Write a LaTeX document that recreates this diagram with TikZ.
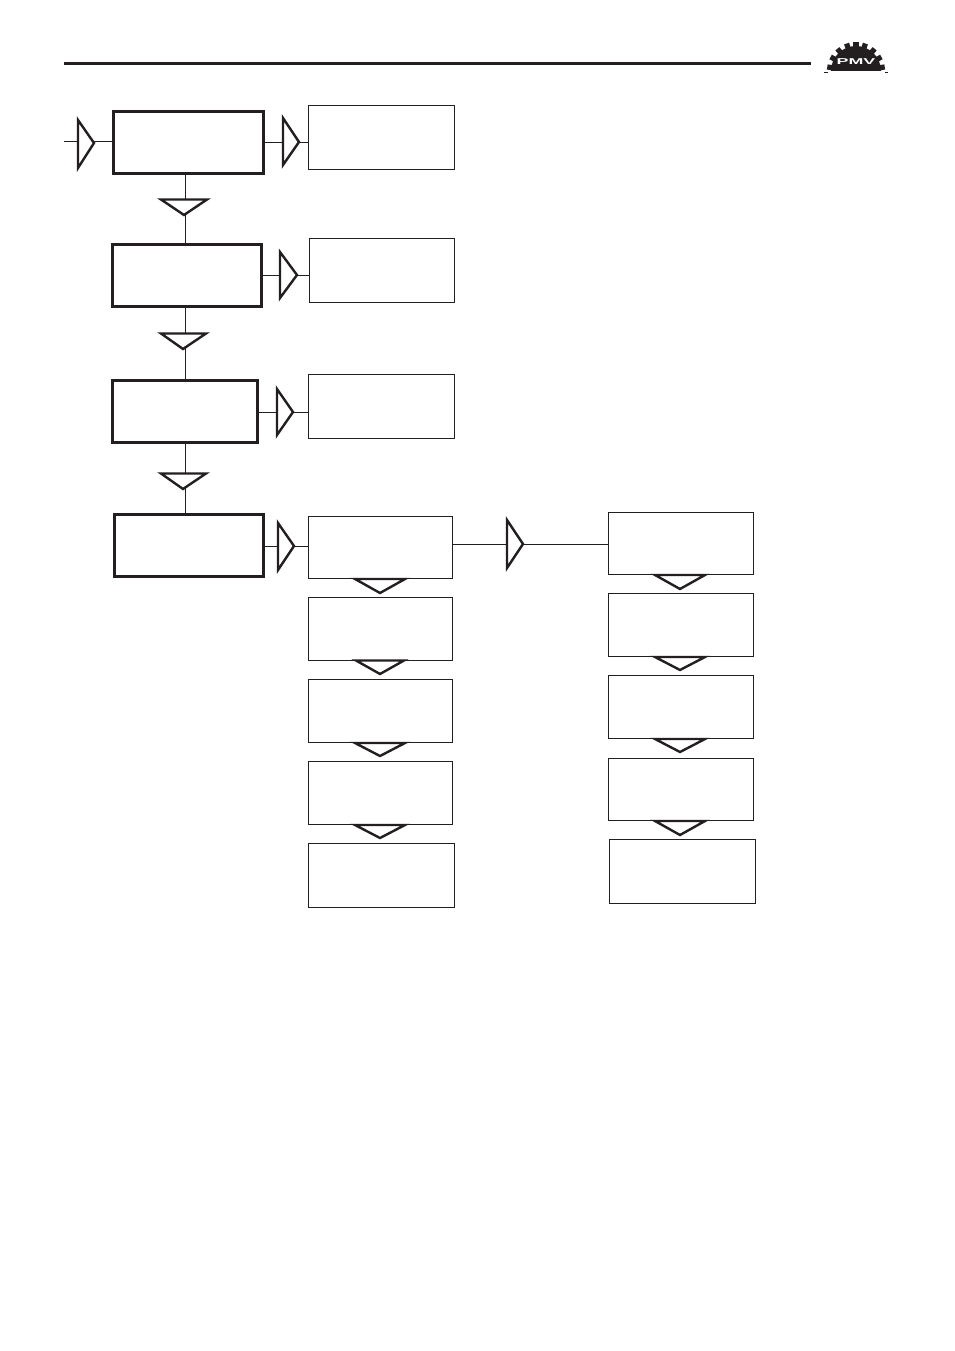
\documentclass[tikz,border=0pt]{standalone}
\usepackage{fontspec}
\setmainfont{Liberation Sans}
\definecolor{ink}{HTML}{231F20}
\tikzset{
  bx/.style={draw=ink,fill=white,anchor=north west,inner sep=0pt,outer sep=0pt},
  heavybox/.style={bx,line width=3pt},
  lightbox/.style={bx,line width=0.8pt},
  link/.style={draw=ink,line width=0.8pt},
  tri/.style={draw=ink,fill=white,line width=2.4pt,line join=miter},
}
\newcommand{\boxat}[6]{\node[#2,minimum width=#5pt,minimum height=#6pt] (#1) at (#3,#4) {};}
% right-pointing marker: name, left x, top y, tip x, tip y, bottom y
\newcommand{\triright}[6]{\coordinate (#1) at (#4,#5); \draw[tri] (#2,#3) -- (#1) -- (#2,#6) -- cycle;}
% down-pointing marker: name, left x, top y, tip x, tip y, right x
\newcommand{\tridown}[6]{\coordinate (#1) at (#4,#5); \draw[tri] (#2,#3) -- (#1) -- (#6,#3) -- cycle;}
\begin{document}
\begin{tikzpicture}[x=1pt,y=-1pt]
\useasboundingbox (0,0) rectangle (954,1351);
\fill[white] (0,0) rectangle (954,1351);
% header rule
\coordinate (ruleL) at (64,63.5); \coordinate (ruleR) at (811,63.5);
\draw[ink,line width=3pt] (ruleL) -- (ruleR);
% logo
\coordinate (gear) at (856,71);
\begin{scope}[shift={(gear)},x=1pt,y=1pt]
\fill[ink] (-25,0) arc[start angle=180,end angle=0,radius=25] -- cycle;
\foreach \a in {8,29,50,71,90,109,130,151,172}{
  \fill[ink,rotate=\a] (22,-2.6) rectangle (29,2.6);
}
\end{scope}
\node[text=white,font=\bfseries,inner sep=0pt,scale=0.85,xscale=2.1] (pmv) at (856,62) {PMV};
\fill[ink] (824,72) rectangle (828,73);
\fill[ink] (885,72) rectangle (888,73);
% main column
\boxat{m1}{heavybox}{113}{112}{150}{62}
\boxat{m2}{heavybox}{112}{244}{149}{62}
\boxat{m3}{heavybox}{112}{380}{145}{62}
\boxat{m4}{heavybox}{114}{514}{149}{62}
% side boxes
\boxat{a}{lightbox}{308}{105}{146}{64}
\boxat{b}{lightbox}{309}{238}{145}{64}
\boxat{c}{lightbox}{308}{374}{146}{64}
% middle column
\boxat{d1}{lightbox}{308}{516}{144}{62}
\boxat{d2}{lightbox}{308}{597}{144}{63}
\boxat{d3}{lightbox}{308}{679}{144}{63}
\boxat{d4}{lightbox}{308}{761}{144}{63}
\boxat{d5}{lightbox}{308}{843}{146}{64}
% right column
\boxat{e1}{lightbox}{608}{512}{145}{62}
\boxat{e2}{lightbox}{608}{593}{145}{63}
\boxat{e3}{lightbox}{608}{675}{145}{63}
\boxat{e4}{lightbox}{608}{758}{145}{62}
\boxat{e5}{lightbox}{609}{839}{146}{64}
% connectors
\coordinate (start) at (64,141);
\draw[link] (start) -- (m1.west |- start);
\coordinate (y1) at (280,142); \draw[link] (m1.east |- y1) -- (a.west |- y1);
\coordinate (y2) at (280,275); \draw[link] (m2.east |- y2) -- (b.west |- y2);
\coordinate (y3) at (280,412); \draw[link] (m3.east |- y3) -- (c.west |- y3);
\coordinate (y4) at (280,546); \draw[link] (m4.east |- y4) -- (d1.west |- y4);
\coordinate (y5) at (500,544); \draw[link] (d1.east |- y5) -- (e1.west |- y5);
\coordinate (x1) at (185,200); \draw[link] (m1.south -| x1) -- (m2.north -| x1);
\draw[link] (m2.south -| x1) -- (m3.north -| x1);
\draw[link] (m3.south -| x1) -- (m4.north -| x1);
% right-pointing markers
\triright{r0}{78}{120}{94}{143}{168}
\triright{r1}{283}{118}{299}{142}{165}
\triright{r2}{280}{252}{297}{275}{298}
\triright{r3}{277}{389}{293}{412}{435}
\triright{r4}{278}{523}{294}{546}{570}
\triright{r5}{507}{520}{523}{544}{568}
% down-pointing markers
\tridown{t1}{161}{199.5}{184}{215}{207}
\tridown{t2}{161}{333.5}{183}{349}{206}
\tridown{t3}{161}{473.5}{183}{489}{206}
\tridown{s1}{355}{579}{380}{593}{405}
\tridown{s2}{356}{660.5}{380}{674}{404}
\tridown{s3}{355}{743}{380}{756}{405}
\tridown{s4}{355}{825}{380}{838}{405}
\tridown{u1}{655}{575}{680}{589}{705}
\tridown{u2}{655}{657}{680}{670}{705}
\tridown{u3}{655}{739}{680}{752}{705}
\tridown{u4}{655}{821}{680}{835}{705}
\end{tikzpicture}
\end{document}
